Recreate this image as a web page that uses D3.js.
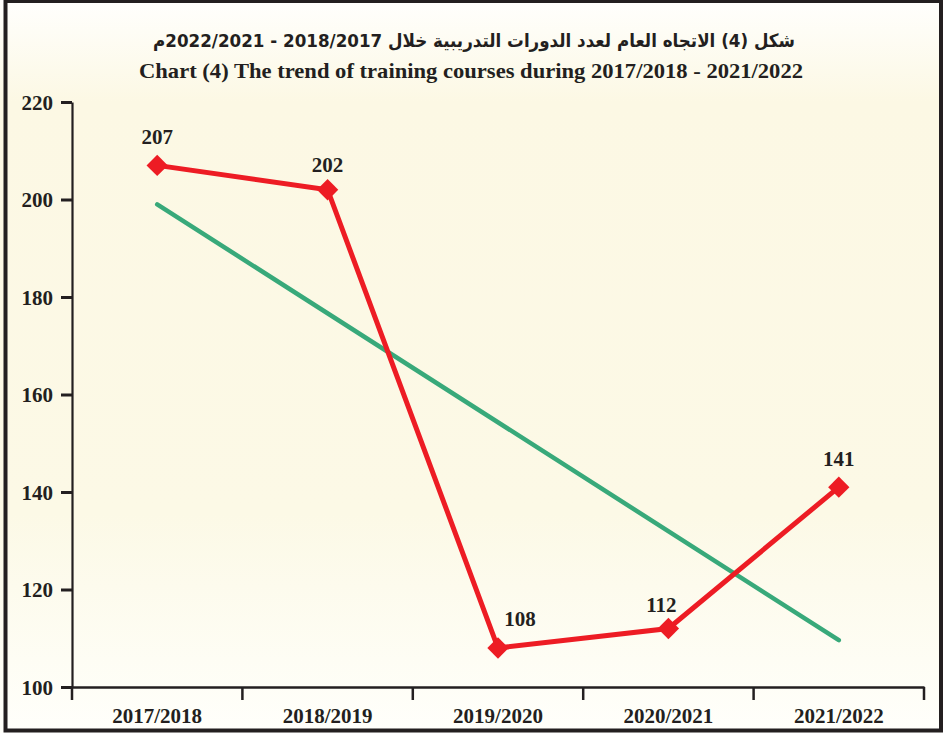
<!DOCTYPE html>
<html>
<head>
<meta charset="utf-8">
<script src="https://cdn.jsdelivr.net/npm/d3@7"></script>
<style>
  html, body { margin: 0; padding: 0; background: #fff; }
  svg { display: block; }
</style>
</head>
<body>
<svg id="chart" width="943" height="733"></svg>
<script>
// ---- data ----
const categories = ["2017/2018", "2018/2019", "2019/2020", "2020/2021", "2021/2022"];
const courses = [207, 202, 108, 112, 141];
// trend line end values (first and last category)
const trendValues = [199, 109.6];
const yTicks = [100, 120, 140, 160, 180, 200, 220];
const titleArabic = "شكل (4) الاتجاه العام لعدد الدورات التدريبية خلال 2018/2017 - 2022/2021م";
const titleEnglish = "Chart (4) The trend of training courses during 2017/2018 - 2021/2022";

// ---- layout ----
const W = 943, H = 733;
const plot = { left: 72, right: 924, top: 102, bottom: 687 };
const dark = "#231f20";
const red = "#ed1c24";
const green = "#38a97a";
const serif = "'Liberation Serif', 'Times New Roman', serif";

const svg = d3.select("#chart");

// background gradient
const defs = svg.append("defs");
const grad = defs.append("linearGradient").attr("id", "bg").attr("x1", 0).attr("y1", 0).attr("x2", 0).attr("y2", 1);
[[0, "#fffffd"], [0.14, "#fcf8e4"], [0.7, "#fcf9e6"], [1, "#fffffb"]].forEach(([o, c]) =>
  grad.append("stop").attr("offset", o).attr("stop-color", c));

svg.append("rect").attr("x", 0).attr("y", 0).attr("width", W).attr("height", H).attr("fill", "url(#bg)");
svg.append("rect").attr("x", 5.5).attr("y", 1).attr("width", 935.5).attr("height", 729.5)
  .attr("fill", "none").attr("stroke", dark).attr("stroke-width", 4);

// titles
svg.append("text")
  .attr("x", 474).attr("y", 47)
  .attr("direction", "rtl")
  .attr("text-anchor", "middle")
  .attr("font-family", "'DejaVu Sans', 'Noto Sans', sans-serif")
  .attr("font-weight", "bold")
  .attr("font-size", 18.5)
  .attr("textLength", 642)
  .attr("lengthAdjust", "spacingAndGlyphs")
  .attr("fill", dark)
  .text(titleArabic);

svg.append("text")
  .attr("x", 471).attr("y", 78)
  .attr("text-anchor", "middle")
  .attr("font-family", serif)
  .attr("font-weight", "bold")
  .attr("font-size", 22)
  .attr("textLength", 664)
  .attr("lengthAdjust", "spacingAndGlyphs")
  .attr("fill", dark)
  .text(titleEnglish);

// scales
const x = d3.scaleBand().domain(categories).range([plot.left, plot.right]).padding(0);
const y = d3.scaleLinear().domain([100, 220]).range([plot.bottom, plot.top]);
const cx = d => x(d) + x.bandwidth() / 2;

// y axis
const yAxis = svg.append("g").attr("transform", `translate(${plot.left},0)`)
  .call(d3.axisLeft(y).tickValues(yTicks).tickSize(11).tickPadding(8).tickSizeOuter(0));
yAxis.select(".domain").attr("stroke", dark).attr("stroke-width", 2.2);
yAxis.selectAll(".tick line").attr("stroke", dark).attr("stroke-width", 3);
yAxis.selectAll(".tick text")
  .attr("font-family", serif).attr("font-weight", "bold").attr("font-size", 21)
  .attr("fill", dark).attr("dy", "0.34em");

// x axis: ticks at category boundaries
const xAxis = svg.append("g").attr("transform", `translate(0,${plot.bottom})`)
  .call(d3.axisBottom(x).tickSize(0).tickPadding(21).tickSizeOuter(0));
xAxis.select(".domain").attr("stroke", dark).attr("stroke-width", 2.5);
xAxis.selectAll(".tick text")
  .attr("font-family", serif).attr("font-weight", "bold").attr("font-size", 21)
  .attr("fill", dark);
const boundaries = categories.map(c => x(c)).concat([x(categories[categories.length - 1]) + x.bandwidth()]);
xAxis.selectAll("line.bound").data(boundaries).enter().append("line")
  .attr("class", "bound")
  .attr("x1", d => d).attr("x2", d => d)
  .attr("y1", 0).attr("y2", 13)
  .attr("stroke", dark).attr("stroke-width", 2.5);

// trend line
const trendData = [
  { c: categories[0], v: trendValues[0] },
  { c: categories[categories.length - 1], v: trendValues[1] }
];
svg.append("path")
  .datum(trendData)
  .attr("fill", "none")
  .attr("stroke", green)
  .attr("stroke-width", 4.5)
  .attr("stroke-linecap", "round")
  .attr("d", d3.line().x(d => cx(d.c)).y(d => y(d.v)));

// data line
const series = categories.map((c, i) => ({ c, v: courses[i] }));
svg.append("path")
  .datum(series)
  .attr("fill", "none")
  .attr("stroke", red)
  .attr("stroke-width", 5)
  .attr("stroke-linejoin", "miter")
  .attr("d", d3.line().x(d => cx(d.c)).y(d => y(d.v)));

// diamond markers
svg.selectAll("path.marker").data(series).enter().append("path")
  .attr("class", "marker")
  .attr("d", d3.symbol().type(d3.symbolDiamond2).size(290))
  .attr("transform", d => `translate(${cx(d.c)},${y(d.v)})`)
  .attr("fill", red);

// value labels
const labelDx = [0, 0, 22, -7, 0];
const labelDy = [-21, -18, -22, -17, -21];
svg.selectAll("text.val").data(series).enter().append("text")
  .attr("class", "val")
  .attr("x", (d, i) => cx(d.c) + labelDx[i])
  .attr("y", (d, i) => y(d.v) + labelDy[i])
  .attr("text-anchor", "middle")
  .attr("font-family", serif).attr("font-weight", "bold").attr("font-size", 21)
  .attr("fill", dark)
  .text(d => d.v);
</script>
</body>
</html>
